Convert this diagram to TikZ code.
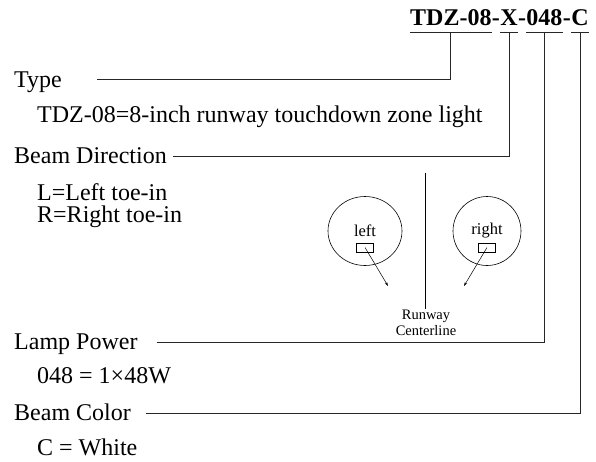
\documentclass[tikz,border=0pt]{standalone}
\usepackage{fontspec}
\setmainfont{Liberation Serif}
\usetikzlibrary{arrows.meta,shapes.geometric}

\tikzset{
  lbl/.style={anchor=base west, inner sep=0pt, font=\fontsize{24}{28}\selectfont},
  part/.style={anchor=base west, inner xsep=0pt, inner ysep=7pt, text depth=0pt,
    font=\fontsize{24}{28}\selectfont\bfseries},
  lead/.style={line width=0.8pt, black!85},
  lamp/.style={draw, ellipse, line width=0.6pt, minimum width=74pt, minimum height=69pt,
    inner sep=0pt, font=\fontsize{16.5}{18}\selectfont},
  lens/.style={draw, rectangle, line width=0.6pt, minimum width=17pt, minimum height=9pt, inner sep=0pt},
  aim/.style={line width=0.5pt, -{Stealth[length=4pt,width=2.5pt]}},
}

\begin{document}
\begin{tikzpicture}[x=1pt, y=-1pt]

\useasboundingbox (0,0) rectangle (596,461) ;

% code in the title
\node [part] (tdz) at (410,25) {TDZ-08} ;
\node [part] (d1) at (tdz.base east) {-} ;
\node [part] (dir) at (d1.base east) {X} ;
\node [part] (d2) at (dir.base east) {-} ;
\node [part] (pow) at (d2.base east) {048} ;
\node [part] (d3) at (pow.base east) {-} ;
\node [part] (col) at (d3.base east) {C} ;

\draw [lead] (tdz.south west) to (tdz.south east) ;
\draw [lead] (dir.south west) to (dir.south east) ;
\draw [lead] (pow.south west) to (pow.south east) ;
\draw [lead] (col.south west) to (col.south east) ;

% left column
\node [lbl] (type) at (14,87) {Type} ;
\node [lbl] (typetxt) at (37,122) {TDZ-08=8-inch runway touchdown zone light} ;
\node [lbl] (beam) at (14,163) {Beam Direction} ;
\node [lbl] (ltoe) at (37,200) {L=Left toe-in} ;
\node [lbl] (rtoe) at (37,222) {R=Right toe-in} ;
\node [lbl] (lamp) at (14,349) {Lamp Power} ;
\node [lbl] (lamptxt) at (37,383) {048 = 1\texttimes48W} ;
\node [lbl] (color) at (14,420) {Beam Color} ;
\node [lbl] (colortxt) at (37,455) {C = White} ;

\draw [lead] ([xshift=35pt, yshift=7.5pt]type.base east) -| (tdz.south) ;
\draw [lead] ([xshift=6pt, yshift=7pt]beam.base east) -| (dir.south) ;
\draw [lead] ([xshift=19pt, yshift=7pt]lamp.base east) -| (pow.south) ;
\draw [lead] ([xshift=15pt, yshift=7pt]color.base east) -| (col.south) ;

% lamps either side of the centerline
\coordinate (cltop) at (425,173) ;
\node [anchor=north, align=center, inner sep=0pt, font=\fontsize{14.5}{16}\selectfont]
  (runway) at (426,310) {Runway\\Centerline} ;
\draw [line width=0.7pt] (cltop) to ([xshift=-1pt, yshift=1.5pt]runway.north) ;

\node [lamp] (leftlamp) at (365,231) {left} ;
\node [lens] (leftlens) at (365,247.5) {} ;
\coordinate (leftaim) at (388,286) ;
\draw [aim] (leftlens.center) to (leftaim) ;

\node [lamp, minimum width=68pt] (rightlamp) at (487,231) {right} ;
\node [lens] (rightlens) at (487,247.5) {} ;
\coordinate (rightaim) at (464,286) ;
\draw [aim] (rightlens.center) to (rightaim) ;

\end{tikzpicture}
\end{document}
